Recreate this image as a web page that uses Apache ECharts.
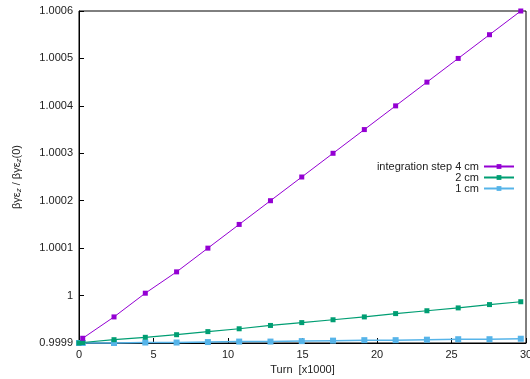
<!DOCTYPE html>
<html>
<head>
<meta charset="utf-8">
<script src="https://cdn.jsdelivr.net/npm/echarts@6/dist/echarts.min.js"></script>
<style>
  html, body { margin: 0; padding: 0; background: #fff; }
  #main { width: 530px; height: 379px; }
</style>
</head>
<body>
<div id="main"></div>
<script>
// turns [x1000] where the markers sit
var turns4 = [0.25, 2.35, 4.45, 6.55, 8.65, 10.75, 12.85, 14.95, 17.05, 19.15, 21.25, 23.35, 25.45, 27.55, 29.65];
var turnsFine = [0, 0.25, 2.35, 4.45, 6.55, 8.65, 10.75, 12.85, 14.95, 17.05, 19.15, 21.25, 23.35, 25.45, 27.55, 29.65];

// integration step 4 cm
var step4 = [0.99991, 0.999955, 1.000005, 1.00005, 1.0001, 1.00015, 1.0002, 1.00025,
             1.0003, 1.00035, 1.0004, 1.00045, 1.0005, 1.00055, 1.0006];
// 2 cm
var step2 = [0.9999, 0.999901, 0.999907, 0.999912, 0.9999175, 0.999924, 0.99993, 0.999937, 0.999943,
             0.999949, 0.999955, 0.999962, 0.999968, 0.999974, 0.999981, 0.999987];
// 1 cm
var step1 = [0.9999, 0.9999, 0.9999, 0.999901, 0.999901, 0.999902, 0.999903, 0.999903, 0.999904,
             0.999905, 0.999906, 0.999906, 0.999907, 0.999908, 0.999908, 0.999909];

var seriesNames = ['integration step 4 cm', '2 cm', '1 cm'];
var seriesColors = ['#9400d3', '#009e73', '#56b4e9'];

function pairs(xs, ys) {
    var out = [];
    for (var i = 0; i < ys.length; i++) {
        out.push([xs[i], ys[i]]);
    }
    return out;
}

var chart = echarts.init(document.getElementById('main'));

var font = 'Liberation Sans, Arial, sans-serif';

// one legend per row so the texts line up on the right like gnuplot's key
function legendFor(i, top) {
    return {
        data: [seriesNames[i]],
        right: 15,
        top: top,
        itemWidth: 30,
        itemHeight: 6,
        itemGap: 0,
        align: 'right',
        padding: 0,
        textStyle: { fontFamily: font, fontSize: 11, color: '#222' },
        selectedMode: false
    };
}

var option = {
    animation: false,
    backgroundColor: '#fff',
    color: seriesColors,
    legend: [legendFor(0, 161), legendFor(1, 172), legendFor(2, 183)],
    grid: {
        left: 79,
        right: 4,
        top: 11,
        bottom: 36,
        show: true,
        borderColor: '#000',
        borderWidth: 1,
        containLabel: false,
        outerBoundsMode: 'none'
    },
    xAxis: {
        type: 'value',
        min: 0,
        max: 30,
        interval: 5,
        name: 'Turn  [x1000]',
        nameLocation: 'middle',
        nameGap: 20,
        nameTextStyle: { fontFamily: font, fontSize: 11, color: '#222' },
        axisLine: { lineStyle: { color: '#000', width: 1 } },
        axisTick: { inside: true, length: 5, lineStyle: { color: '#000' } },
        axisLabel: {
            fontFamily: font, fontSize: 11, color: '#222', margin: 6,
            alignMinLabel: 'center', alignMaxLabel: 'center'
        },
        splitLine: { show: false }
    },
    yAxis: {
        type: 'value',
        min: 0.9999,
        max: 1.0006,
        interval: 0.0001,
        name: '{a|βγε}{s|z}{a| / βγε}{s|z}{a|(0)}',
        nameLocation: 'middle',
        nameGap: 56,
        nameTextStyle: {
            fontFamily: font,
            color: '#222',
            rich: {
                a: { fontFamily: font, fontSize: 11, color: '#222' },
                s: { fontFamily: font, fontSize: 8, color: '#222', fontStyle: 'italic', padding: [5, 0, 0, 0] }
            }
        },
        axisLine: { lineStyle: { color: '#000', width: 1 } },
        axisTick: { inside: true, length: 5, lineStyle: { color: '#000' } },
        axisLabel: {
            fontFamily: font,
            fontSize: 11,
            color: '#222',
            margin: 6,
            formatter: function (v) {
                return String(parseFloat(v.toFixed(4)));
            }
        },
        splitLine: { show: false }
    },
    series: [
        {
            name: seriesNames[0],
            type: 'line',
            data: pairs(turns4, step4),
            symbol: 'rect',
            symbolSize: 5,
            clip: false,
            lineStyle: { width: 1 },
            z: 4
        },
        {
            name: seriesNames[1],
            type: 'line',
            data: pairs(turnsFine, step2),
            symbol: 'rect',
            symbolSize: 5,
            clip: false,
            lineStyle: { width: 1.2 },
            z: 3
        },
        {
            name: seriesNames[2],
            type: 'line',
            data: pairs(turnsFine, step1),
            symbol: 'rect',
            symbolSize: 6,
            clip: false,
            lineStyle: { width: 1.5 },
            z: 2
        }
    ]
};

chart.setOption(option);
window.addEventListener('resize', function () {
    chart.resize();
});
</script>
</body>
</html>
